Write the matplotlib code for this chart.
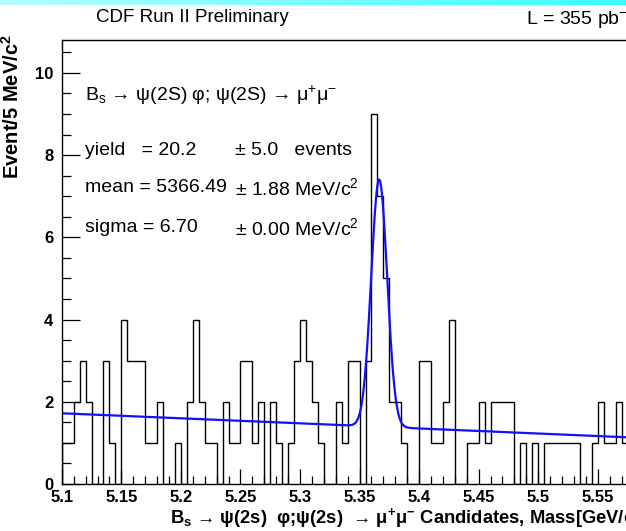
import numpy as np
import matplotlib as mpl
mpl.use('Agg')
import matplotlib.pyplot as plt
from matplotlib.ticker import MultipleLocator

plt.rcParams['font.family'] = ['Liberation Sans', 'DejaVu Sans']
plt.rcParams['mathtext.fontset'] = 'custom'
plt.rcParams['mathtext.rm'] = 'Liberation Sans'
plt.rcParams['mathtext.it'] = 'Liberation Sans:italic'
plt.rcParams['mathtext.bf'] = 'Liberation Sans:bold'

# histogram: 5 MeV bins from 5.100 GeV (only the visible part of the plot)
bin_lo = 5.1
bin_w = 0.005
counts = [1, 1, 2, 3, 2, 0, 0, 3, 1, 0,
          4, 3, 3, 3, 1, 1, 2, 0, 0, 1,
          0, 2, 4, 2, 1, 1, 0, 2, 1, 1,
          3, 3, 1, 2, 0, 2, 1, 0, 1, 3,
          4, 3, 2, 1, 0, 0, 2, 1, 3, 3,
          0, 3, 9, 7, 5, 2, 2, 1, 0, 0,
          3, 3, 1, 1, 2, 4, 0, 0, 1, 1,
          2, 1, 2, 2, 2, 2, 0, 1, 0, 1,
          0, 1, 1, 1, 1, 1, 1, 0, 0, 1,
          2, 1, 1, 2, 1]

# fit: gaussian signal + linear background (per bin)
fit_yield = 20.2
fit_mean = 5.36649
fit_sigma = 0.00670
bkg_at_lo = 1.72
bkg_slope = -1.23

x_range = (5.1, 5.6)
y_max = 10.8
xtick_vals = [5.1, 5.15, 5.2, 5.25, 5.3, 5.35, 5.4, 5.45, 5.5, 5.55]
xtick_text = ['5.1', '5.15', '5.2', '5.25', '5.3', '5.35', '5.4', '5.45', '5.5', '5.55']

W, H = 626, 531
fig = plt.figure(figsize=(W / 100, H / 100), dpi=100)


def fx(px):
    return px / W


def fy(py):
    return 1 - py / H


# cyan strip at the very top
strip = fig.add_axes([0, fy(5), 1, 5 / H])
grad = np.linspace(0, 1, 256)
cols = np.zeros((1, 256, 3))
cols[0, :, 0] = 0.72 - 0.5 * grad
cols[0, :, 1] = 1.0
cols[0, :, 2] = 1.0
strip.imshow(cols, aspect='auto', extent=[0, 1, 0, 1])
strip.axis('off')

x0_px, x1_px = 61.8, 61.8 + 0.5 * 1191
y0_px, y1_px = 484, 40
ax = fig.add_axes([fx(x0_px), fy(y0_px), (x1_px - x0_px) / W, (y0_px - y1_px) / H])

edges = bin_lo + bin_w * np.arange(len(counts) + 1)
ax.stairs(counts, edges, color='black', lw=1.0, baseline=0)

xx = np.linspace(x_range[0], x_range[1], 1500)
sig = fit_yield * bin_w / (np.sqrt(2 * np.pi) * fit_sigma) * np.exp(-0.5 * ((xx - fit_mean) / fit_sigma) ** 2)
bkg = bkg_at_lo + bkg_slope * (xx - bin_lo)
ax.plot(xx, sig + bkg, color='#1010ff', lw=1.6)

ax.set_xlim(*x_range)
ax.set_ylim(0, y_max)
ax.set_xticks(xtick_vals)
ax.set_xticklabels(xtick_text, fontweight='bold')
ax.xaxis.set_minor_locator(MultipleLocator(0.01))
ax.yaxis.set_major_locator(MultipleLocator(2))
ax.yaxis.set_minor_locator(MultipleLocator(0.5))
for lab in ax.get_yticklabels():
    lab.set_fontweight('bold')
ax.tick_params(axis='both', which='both', direction='in', top=False, right=False, color='black')
ax.tick_params(axis='y', which='major', length=13, width=0.9, labelsize=12, pad=6)
ax.tick_params(axis='y', which='minor', length=6.5, width=0.9)
ax.tick_params(axis='x', which='major', length=11, width=0.9, labelsize=12, pad=4)
ax.tick_params(axis='x', which='minor', length=5.8, width=0.9)
for s in ax.spines.values():
    s.set_linewidth(1.0)

# labels
fig.text(fx(96), fy(18), 'CDF Run II Preliminary', fontsize=13.5, ha='left', va='center')
fig.text(fx(526), fy(18), 'L = 355 pb$^{-1}$', fontsize=14, ha='left', va='center')

fig.text(fx(12), fy(34), 'Event/5 MeV/c$^{\\mathbf{2}}$', fontsize=14.5, fontweight='bold',
         rotation=90, ha='center', va='top')
fig.text(fx(170), fy(518),
         'B$_{\\mathbf{s}}$ \u2192 \u03c8(2s)  \u03c6;\u03c8(2s)  \u2192 \u03bc$^{\\mathbf{+}}$\u03bc$^{\\mathbf{-}}$ Candidates, Mass[GeV/c$^{\\mathbf{2}}$]',
         fontsize=13.2, fontweight='bold', ha='left', va='center')

fig.text(fx(85), fy(95), 'B$_{\\rm s}$ \u2192 \u03c8(2S) \u03c6; \u03c8(2S) \u2192 \u03bc$^{+}$\u03bc$^{-}$',
         fontsize=14, ha='left', va='center')
rows = [('yield   = 20.2', '\u00b1 5.0   events', 150),
        ('mean = 5366.49', '\u00b1 1.88 MeV/c$^{2}$', 188),
        ('sigma = 6.70', '\u00b1 0.00 MeV/c$^{2}$', 228)]
for left, right, py in rows:
    fig.text(fx(85), fy(py), left, fontsize=14, ha='left', va='center')
    fig.text(fx(235), fy(py), right, fontsize=14, ha='left', va='center')

fig.savefig('out.png', dpi=100)
